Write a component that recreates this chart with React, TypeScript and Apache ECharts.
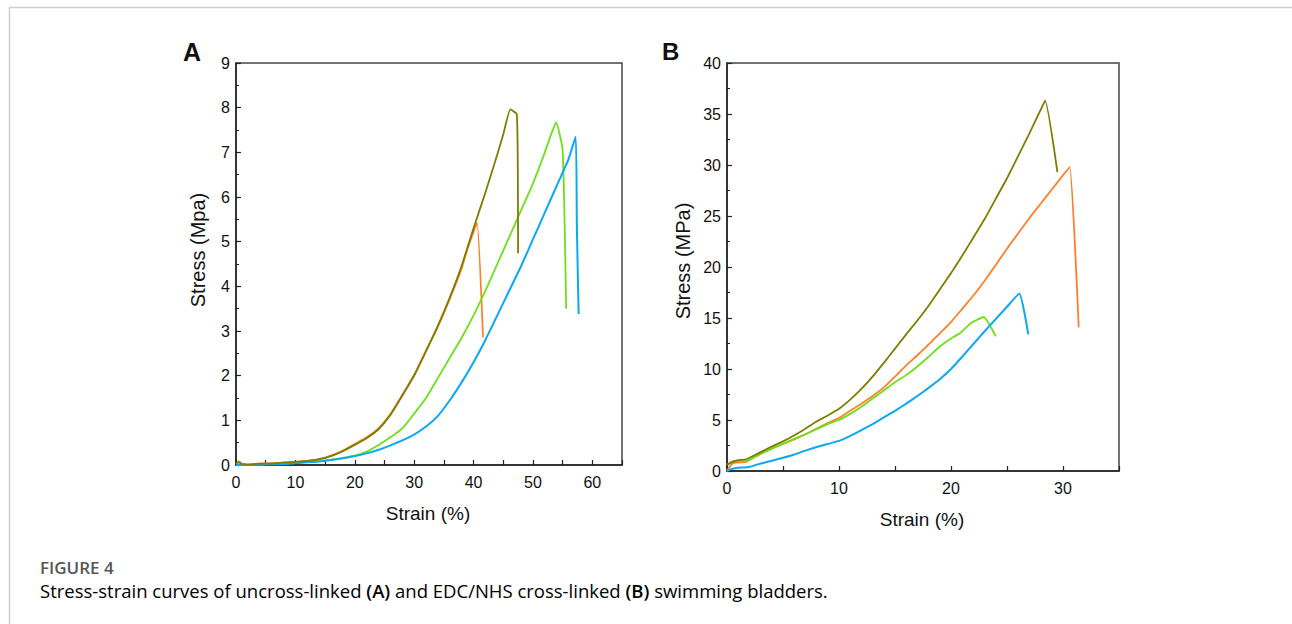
import React, { useEffect, useRef } from "react";
import * as echarts from "echarts";

// ---------- Panel A (uncross-linked) ----------
const aOliveStrain = [0, 0.5, 1, 2, 4, 6, 8, 10, 12, 14, 16, 18, 20, 22, 24, 26, 28, 30, 32, 34, 36, 38, 40, 42, 44, 45, 46.2, 47.3, 47.5];
const aOliveStress = [0.02, 0.07, 0.02, 0.01, 0.03, 0.03, 0.06, 0.07, 0.09, 0.13, 0.2, 0.31, 0.45, 0.6, 0.8, 1.12, 1.55, 2.0, 2.55, 3.12, 3.75, 4.46, 5.3, 6.1, 6.95, 7.4, 7.96, 7.85, 4.74];

const aOrangeStrain = [0, 1, 2, 4, 6, 8, 10, 12, 14, 16, 18, 20, 22, 24, 26, 28, 30, 32, 34, 36, 38, 39, 40, 40.6, 41.6];
const aOrangeStress = [0.0, 0.03, 0.01, 0.03, 0.04, 0.05, 0.07, 0.09, 0.13, 0.21, 0.32, 0.47, 0.62, 0.82, 1.14, 1.57, 2.02, 2.56, 3.1, 3.72, 4.4, 4.85, 5.22, 5.42, 2.86];

const aGreenStrain = [0, 0.5, 1, 2, 5, 8, 10, 12, 14, 16, 18, 20, 22, 24, 26, 28, 30, 32, 34, 36, 38, 40, 42, 44, 46, 48, 50, 52, 53, 53.9, 55.0, 55.6];
const aGreenStress = [0.02, 0.08, 0.01, 0.01, 0.02, 0.04, 0.05, 0.07, 0.09, 0.12, 0.16, 0.21, 0.3, 0.45, 0.62, 0.82, 1.15, 1.5, 1.95, 2.4, 2.85, 3.35, 3.9, 4.5, 5.1, 5.7, 6.3, 7.0, 7.38, 7.67, 7.06, 3.5];

const aBlueStrain = [0, 2, 5, 8, 10, 12, 14, 16, 18, 20, 22, 24, 26, 28, 30, 32, 34, 36, 38, 40, 42, 44, 46, 48, 50, 52, 54, 56, 57.2, 57.4, 57.7];
const aBlueStress = [0.0, 0.0, 0.01, 0.02, 0.04, 0.06, 0.08, 0.11, 0.15, 0.2, 0.26, 0.34, 0.44, 0.55, 0.68, 0.86, 1.1, 1.45, 1.85, 2.3, 2.8, 3.35, 3.9, 4.45, 5.05, 5.65, 6.25, 6.85, 7.35, 5.33, 3.38];

// ---------- Panel B (EDC/NHS cross-linked) ----------
const bOliveStrain = [0, 0.4, 0.9, 1.7, 2.9, 4, 5, 5.9, 7, 8, 9, 10, 11, 12, 13, 14, 15, 16, 17, 18, 19, 20, 21, 22, 23, 24, 25, 26, 27, 28, 28.4, 29.5];
const bOliveStress = [0.6, 0.85, 1.05, 1.15, 1.8, 2.4, 2.9, 3.43, 4.15, 4.85, 5.45, 6.1, 7.0, 8.05, 9.25, 10.6, 12.0, 13.4, 14.75, 16.2, 17.8, 19.4, 21.1, 22.9, 24.7, 26.7, 28.7, 30.9, 33.1, 35.4, 36.3, 29.3];

const bOrangeStrain = [0, 0.3, 0.6, 1.7, 2.9, 4, 5, 6, 7, 8, 9, 10, 11, 12, 13, 14, 15, 16, 17, 18, 19, 20, 21, 22, 23, 24, 25, 26, 27, 28, 29, 30, 30.6, 31.4];
const bOrangeStress = [0, 0.5, 0.8, 0.9, 1.7, 2.2, 2.65, 3.1, 3.6, 4.15, 4.7, 5.2, 5.9, 6.6, 7.35, 8.2, 9.25, 10.35, 11.35, 12.4, 13.5, 14.6, 15.9, 17.2, 18.65, 20.2, 21.8, 23.3, 24.8, 26.2, 27.6, 29.0, 29.8, 14.1];

const bGreenStrain = [0, 0.5, 1, 1.7, 2.9, 4, 5, 5.9, 7, 8, 9, 10, 11, 12, 13, 14, 15, 16, 17, 18, 19, 20, 20.8, 21.8, 22.9, 24.0];
const bGreenStress = [0.6, 0.95, 1.0, 1.0, 1.6, 2.2, 2.65, 3.1, 3.6, 4.1, 4.6, 5.0, 5.6, 6.3, 7.1, 7.9, 8.7, 9.4, 10.25, 11.2, 12.2, 13.0, 13.5, 14.5, 15.1, 13.2];

const bBlueStrain = [0, 0.4, 0.84, 2.0, 2.9, 4, 5, 5.9, 7, 8, 9, 10, 11, 12, 13, 14, 15, 16, 17, 18, 19, 20, 21, 22, 23, 24, 25, 26.1, 26.9];
const bBlueStress = [0, 0.2, 0.3, 0.4, 0.7, 1.0, 1.3, 1.57, 2.0, 2.35, 2.65, 2.95, 3.45, 4.0, 4.6, 5.25, 5.9, 6.6, 7.35, 8.15, 9.0, 10.0, 11.2, 12.45, 13.7, 14.9, 16.1, 17.4, 13.4];

// ---------- Axes / texts ----------
const aXMax = 65;
const aYMax = 9;
const bXMax = 35;
const bYMax = 40;
const xLabelStep = 10;

const panelLetters = ["A", "B"];
const yNames = ["Stress (Mpa)", "Stress (MPa)"];
const xName = "Strain (%)";
const figureTitle = "FIGURE 4";
const captionParts = [
  { t: "Stress-strain curves of uncross-linked ", b: false },
  { t: "(A)", b: true },
  { t: " and EDC/NHS cross-linked ", b: false },
  { t: "(B)", b: true },
  { t: " swimming bladders.", b: false },
];

const COLORS = {
  olive: "#7d7d00",
  orange: "#ff7f2a",
  green: "#6ee01a",
  blue: "#0aa8f5",
};

const zip = (xs: number[], ys: number[]) => xs.map((x, i) => [x, ys[i]]);

const FONT = "Arial";
const CAP_FONT = "Open Sans";

function xAxisCfg(gridIndex: number, max: number) {
  return {
    type: "value",
    gridIndex,
    min: 0,
    max,
    interval: 5,
    axisLine: { show: true, onZero: false, lineStyle: { color: "#222", width: 1.5 } },
    axisTick: { show: true, inside: true, length: 5, lineStyle: { color: "#222", width: 1.2 } },
    axisLabel: {
      show: true,
      margin: 9,
      fontSize: 16,
      color: "#111",
      fontFamily: FONT,
      formatter: (v: number) => (v % xLabelStep === 0 ? String(v) : ""),
    },
    splitLine: { show: false },
  };
}

function yAxisCfg(gridIndex: number, max: number, interval: number) {
  return {
    type: "value",
    gridIndex,
    min: 0,
    max,
    interval,
    axisLine: { show: true, onZero: false, lineStyle: { color: "#222", width: 1.5 } },
    axisTick: { show: true, inside: true, length: 5, lineStyle: { color: "#222", width: 1.2 } },
    minorTick: { show: true, splitNumber: 2, length: 3, lineStyle: { color: "#222", width: 1 } },
    axisLabel: { show: true, margin: 6, fontSize: 16, color: "#111", fontFamily: FONT },
    splitLine: { show: false },
    minorSplitLine: { show: false },
  };
}

function line(name: string, xs: number[], ys: number[], color: string, idx: number, width = 1.8) {
  return {
    name,
    type: "line",
    xAxisIndex: idx,
    yAxisIndex: idx,
    data: zip(xs, ys),
    showSymbol: false,
    symbol: "none",
    smooth: 0.15,
    lineStyle: { color, width },
    itemStyle: { color },
  };
}

export default function App() {
  const ref = useRef<HTMLDivElement>(null);

  useEffect(() => {
    if (!ref.current) return;
    const chart = echarts.init(ref.current, undefined, { renderer: "svg" });

    const rich: any = {
      n: { fontSize: 18.5, color: "#666", fontFamily: CAP_FONT },
      b: { fontSize: 18.5, color: "#444", fontWeight: 600, fontFamily: CAP_FONT },
    };
    const captionStr = captionParts.map((p) => `{${p.b ? "b" : "n"}|${p.t}}`).join("");

    const option: any = {
      animation: false,
      backgroundColor: "#fff",
      grid: [
        { left: 236, top: 63, width: 386, height: 402, show: true, borderColor: "#444", borderWidth: 1.5, containLabel: false, outerBoundsMode: "none" },
        { left: 727, top: 63, width: 392, height: 408, show: true, borderColor: "#444", borderWidth: 1.5, containLabel: false, outerBoundsMode: "none" },
      ],
      xAxis: [xAxisCfg(0, aXMax), xAxisCfg(1, bXMax)],
      yAxis: [yAxisCfg(0, aYMax, 1), yAxisCfg(1, bYMax, 5)],
      series: [
        line("A orange", aOrangeStrain, aOrangeStress, COLORS.orange, 0),
        line("A green", aGreenStrain, aGreenStress, COLORS.green, 0),
        line("A blue", aBlueStrain, aBlueStress, COLORS.blue, 0, 2),
        line("A olive", aOliveStrain, aOliveStress, COLORS.olive, 0),
        line("B orange", bOrangeStrain, bOrangeStress, COLORS.orange, 1),
        line("B green", bGreenStrain, bGreenStress, COLORS.green, 1),
        line("B blue", bBlueStrain, bBlueStress, COLORS.blue, 1, 2),
        line("B olive", bOliveStrain, bOliveStress, COLORS.olive, 1),
      ],
      graphic: [
        // outer frame
        { type: "line", shape: { x1: 9, y1: 7.5, x2: 1292, y2: 7.5 }, style: { stroke: "#cfcfcf", lineWidth: 1.5 } },
        { type: "line", shape: { x1: 9.5, y1: 7, x2: 9.5, y2: 624 }, style: { stroke: "#cfcfcf", lineWidth: 1.5 } },
        // panel letters
        { type: "text", x: 183, y: 39, style: { text: panelLetters[0], fontSize: 25, fontWeight: "bold", fill: "#111", fontFamily: FONT } },
        { type: "text", x: 662, y: 39, style: { text: panelLetters[1], fontSize: 24, fontWeight: "bold", fill: "#111", fontFamily: FONT } },
        // y axis names
        {
          type: "text", x: 198, y: 250, rotation: Math.PI / 2,
          style: { text: yNames[0], fontSize: 20, fill: "#111", fontFamily: FONT, align: "center", verticalAlign: "middle" },
        },
        {
          type: "text", x: 683, y: 261, rotation: Math.PI / 2,
          style: { text: yNames[1], fontSize: 20, fill: "#111", fontFamily: FONT, align: "center", verticalAlign: "middle" },
        },
        // x axis names
        { type: "text", x: 428, y: 513, style: { text: xName, fontSize: 19, fill: "#111", fontFamily: FONT, align: "center", verticalAlign: "middle" } },
        { type: "text", x: 922, y: 519, style: { text: xName, fontSize: 19, fill: "#111", fontFamily: FONT, align: "center", verticalAlign: "middle" } },
        // caption
        { type: "text", left: 40, top: 559, style: { text: figureTitle, fontSize: 17, fontWeight: 600, fill: "#555", fontFamily: CAP_FONT } },
        { type: "text", left: 40, top: 581, style: { text: captionStr, rich } },
      ],
    };

    chart.setOption(option);
    return () => chart.dispose();
  }, []);

  return (
    <div
      ref={ref}
      style={{ position: "fixed", left: 0, top: 0, width: 1292, height: 624, background: "#fff" }}
    />
  );
}
